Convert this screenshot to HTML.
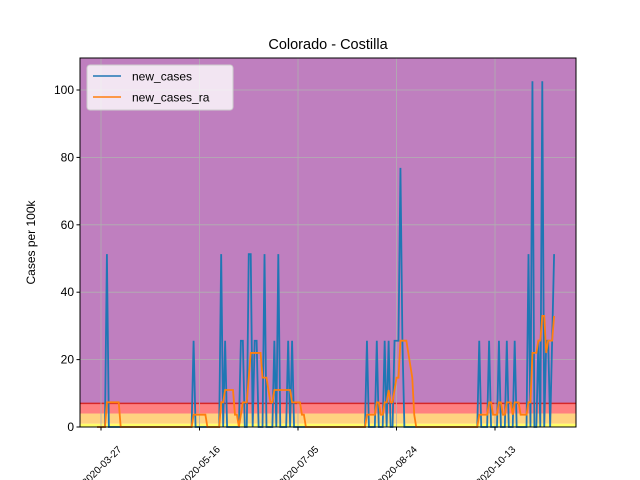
<!DOCTYPE html>
<html><head><meta charset="utf-8"><style>
body{margin:0;background:#fff;}
svg{display:block;font-family:"Liberation Sans","DejaVu Sans",sans-serif;}
</style></head><body>
<svg id="chart" width="640" height="480" viewBox="0 0 640 480">
<rect x="0" y="0" width="640" height="480" fill="#fff"/>
<text x="328" y="49" font-size="14.5" text-anchor="middle">Colorado - Costilla</text>
<g id="plot"></g>
</svg>
<script>
// Data: day offsets from 2020-03-27, and case counts per 100k on those days
const startDay = -2;
const endDay = 230;
const spikeDays = [3,47,61,63,71,72,75,76,78,79,83,88,90,95,97,135,140,144,146,149,150,151,152,153,192,197,202,206,210,217,219,222,224,226,227,229,230];
const spikeVals = [51.3,25.6,51.3,25.6,25.6,25.6,51.3,51.3,25.6,25.6,51.3,25.6,51.3,25.6,25.6,25.6,25.6,25.6,25.6,25.6,25.6,25.6,76.9,25.6,25.6,25.6,25.6,25.6,25.6,51.3,102.6,25.6,102.6,25.6,25.6,25.6,51.3];
const yTicks = [0,20,40,60,80,100];
const xTickDays = [0,50,100,150,200];
const xTickLabels = ["2020-03-27","2020-05-16","2020-07-05","2020-08-24","2020-10-13"];
const bandEdges = [0,1,4,7,110];
const bandColors = ["#ffff66","#ffd280","#ff8080","#bf7fbf"];

const L=80,R=576,T=58,B=427;
const yMax=109.5;
const x = d => 101 + d*1.97;
const y = v => B - v*(B-T)/yMax;
const NS="http://www.w3.org/2000/svg";
const g=document.getElementById('plot');
function mk(tag,attrs,parent){const e=document.createElementNS(NS,tag);for(const k in attrs)e.setAttribute(k,attrs[k]);(parent||g).appendChild(e);return e;}

for(let i=0;i<bandColors.length;i++){
  const top=Math.max(T,y(bandEdges[i+1]));
  const r=mk('rect',{x:L,y:top,width:R-L,height:y(bandEdges[i])-top,fill:bandColors[i]});
  
  
}
const rl=mk('line',{x1:L,x2:R,y1:y(7),y2:y(7),stroke:'#d62728','stroke-width':1.5});


yTicks.forEach(v=>{const l=mk('line',{x1:L,x2:R,y1:y(v),y2:y(v),stroke:'#b0b0b0','stroke-width':0.8});

});
xTickDays.forEach(d=>{const l=mk('line',{x1:x(d),x2:x(d),y1:T,y2:B,stroke:'#b0b0b0','stroke-width':0.8});

});

const days=[],vals=[];
for(let d=startDay;d<=endDay;d++){days.push(d);const i=spikeDays.indexOf(d);vals.push(i>=0?spikeVals[i]:0);}
const ra=vals.map((v,i)=>{let s=0;for(let k=Math.max(0,i-6);k<=i;k++)s+=vals[k];return s/7;});
const p1=mk('polyline',{points:days.map((d,i)=>x(d)+','+y(vals[i])).join(' '),fill:'none',stroke:'#1f77b4','stroke-width':1.8});


const p2=mk('polyline',{points:days.map((d,i)=>x(d)+','+y(ra[i])).join(' '),fill:'none',stroke:'#ff7f0e','stroke-width':1.8});



const fr=mk('rect',{x:L,y:T,width:R-L,height:B-T,fill:'none',stroke:'#000','stroke-width':1});


yTicks.forEach(v=>{
  const t=mk('line',{x1:L-3.5,x2:L,y1:y(v),y2:y(v),stroke:'#000'});
  
  
  const tx=mk('text',{x:L-6,y:y(v)+4,'font-size':12,'text-anchor':'end'});
  tx.textContent=v;
  
  
});
xTickDays.forEach((d,i)=>{
  const t=mk('line',{x1:x(d),x2:x(d),y1:B,y2:B+3.5,stroke:'#000'});
  
  
  const cx=x(d)+1,cy=466;
  const tx=mk('text',{x:cx,y:cy+3,'font-size':10,'text-anchor':'middle',transform:`rotate(-45 ${cx} ${cy})`});
  tx.textContent=xTickLabels[i];
  
  
});
const yt=mk('text',{x:35,y:(T+B)/2,'font-size':12,'text-anchor':'middle',transform:`rotate(-90 35 ${(T+B)/2})`});
yt.textContent='Cases per 100k';



const lg=mk('g',{});


mk('rect',{x:87,y:65,width:146,height:45,rx:3,fill:'#fff','fill-opacity':0.8,stroke:'#ccc'},lg);
[['new_cases','#1f77b4',76],['new_cases_ra','#ff7f0e',97]].forEach(([n,c,yy])=>{
  const e=mk('g',{},lg);
  
  
  mk('line',{x1:93,x2:121,y1:yy,y2:yy,stroke:c,'stroke-width':1.5},e);
  const t=mk('text',{x:132,y:yy+4.5,'font-size':12},e);t.textContent=n;
});
</script>
</body></html>
